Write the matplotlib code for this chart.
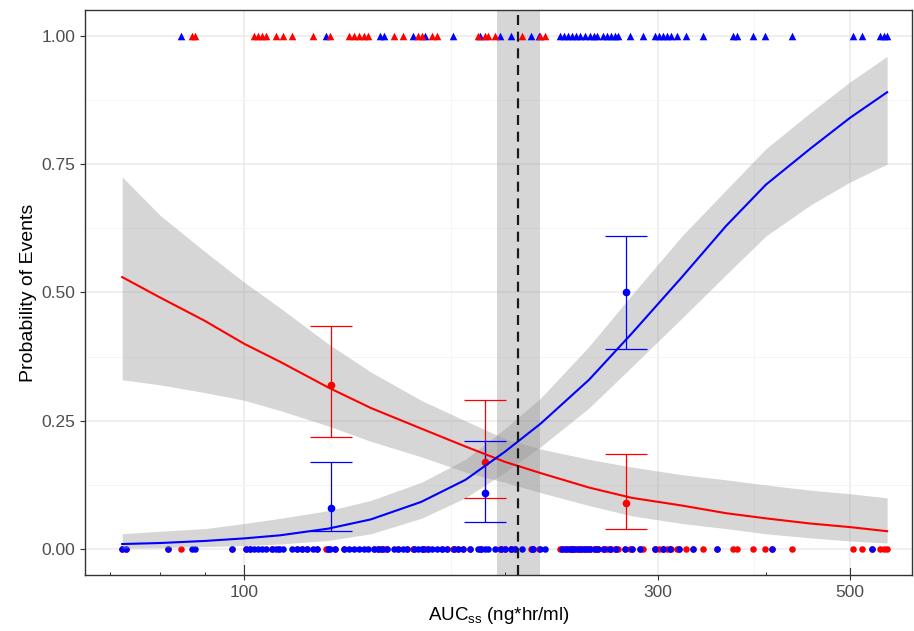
import numpy as np
import matplotlib
matplotlib.use("Agg")
import matplotlib.pyplot as plt
import matplotlib.transforms as mtransforms

plt.rcParams['font.family'] = ['Liberation Sans', 'DejaVu Sans']

# sujeitos com evento azul (azul = 1, vermelho = 0)
auc_blue_event = [84.6, 124.4, 143.3, 144.8, 156.4, 161.5, 174.0, 186.9, 197.1, 203.0,
                  214.1, 218.7, 231.3, 233.8, 236.3, 238.8, 241.3, 243.9, 247.2, 250.5,
                  253.2, 255.2, 259.3, 262.1, 264.9, 267.7, 269.9, 278.6, 288.5, 297.9,
                  301.1, 304.3, 307.5, 310.8, 315.8, 323.5, 338.4, 366.6, 370.5, 386.7,
                  399.2, 429.0, 504.6, 516.8, 542.1, 547.9, 552.3]
# sujeitos com evento vermelho (vermelho = 1, azul = 0)
auc_red_event = [87.1, 87.8, 102.7, 103.8, 104.9, 106.0, 108.9, 110.9, 113.6, 120.2,
                 125.7, 132.2, 134.0, 135.8, 137.6, 139.1, 148.7, 152.3, 158.5, 160.2,
                 164.9, 166.7, 185.9, 189.4, 190.9, 194.5, 209.0, 219.3, 222.3]
# sujeitos sem evento
auc_no_event = [72.3, 73.0, 81.7, 96.9, 100.5, 101.6, 107.7, 109.8, 115.2, 116.7,
                118.3, 121.4, 124.8, 127.4, 130.4, 141.0, 142.5, 144.2, 146.3, 150.3,
                154.3, 156.9, 161.0, 162.8, 169.0, 171.3, 174.5, 176.3, 178.7, 182.0,
                187.4, 197.6, 199.8, 203.4, 205.2, 214.6, 215.3, 232.6, 235.0, 237.4,
                238.8, 240.0, 242.7, 244.6, 246.5, 248.8, 250.5, 254.0, 255.9, 260.0,
                264.2, 268.5, 275.0, 280.2, 286.2, 297.9, 304.3, 310.0, 317.5, 329.6,
                351.3, 406.6, 530.7]

# curvas ajustadas
curve_auc = [72.3, 80, 90, 100, 110, 125, 140, 160, 180, 200, 220, 250, 280, 320, 360, 400, 450, 500, 552]
red_fit = [0.530, 0.49, 0.445, 0.40, 0.365, 0.315, 0.275, 0.235, 0.20, 0.17, 0.148, 0.12, 0.10,
           0.085, 0.07, 0.06, 0.05, 0.043, 0.035]
red_upper = [0.725, 0.65, 0.58, 0.52, 0.47, 0.40, 0.345, 0.29, 0.25, 0.215, 0.195, 0.175, 0.16,
             0.145, 0.135, 0.125, 0.115, 0.108, 0.10]
red_lower = [0.33, 0.32, 0.305, 0.29, 0.27, 0.24, 0.21, 0.18, 0.15, 0.13, 0.11, 0.085, 0.065,
             0.05, 0.04, 0.03, 0.022, 0.016, 0.012]
blue_fit = [0.010, 0.012, 0.016, 0.021, 0.027, 0.040, 0.058, 0.092, 0.135, 0.19, 0.245, 0.33,
            0.42, 0.53, 0.63, 0.71, 0.78, 0.84, 0.89]
blue_upper = [0.03, 0.035, 0.04, 0.05, 0.06, 0.075, 0.095, 0.13, 0.175, 0.235, 0.295, 0.395,
              0.495, 0.61, 0.70, 0.78, 0.85, 0.91, 0.96]
blue_lower = [0.002, 0.003, 0.005, 0.007, 0.01, 0.017, 0.03, 0.06, 0.10, 0.15, 0.20, 0.275,
              0.355, 0.45, 0.535, 0.61, 0.67, 0.715, 0.75]

# pontos por faixa com intervalo
bin_auc = [126, 189.5, 276]
red_bin_p = [0.32, 0.17, 0.09]
red_bin_lo = [0.218, 0.10, 0.04]
red_bin_hi = [0.435, 0.29, 0.185]
blue_bin_p = [0.08, 0.11, 0.50]
blue_bin_lo = [0.035, 0.052, 0.39]
blue_bin_hi = [0.17, 0.21, 0.61]

# limiar
threshold = 206.8
threshold_lo = 195.6
threshold_hi = 219.3

x_major = [100, 300, 500]
x_minor_grid = [173.2, 387.3]
log_short = [70, 80, 90, 200, 400]
y_major = [0.0, 0.25, 0.5, 0.75, 1.0]
y_minor = [0.125, 0.375, 0.625, 0.875]

fig = plt.figure(figsize=(9.14, 6.31), dpi=100)
ax = fig.add_axes([0.093, 0.089, 0.905, 0.895])
ax.set_xscale('log')
ax.set_xlim(65.5, 590)
ax.set_ylim(-0.05, 1.05)

# grade
for x in x_major:
    ax.axvline(x, color='#ebebeb', lw=1.1, zorder=0)
for x in x_minor_grid:
    ax.axvline(x, color='#f4f4f4', lw=0.6, zorder=0)
for y in y_major:
    ax.axhline(y, color='#ebebeb', lw=1.1, zorder=0)
for y in y_minor:
    ax.axhline(y, color='#f4f4f4', lw=0.6, zorder=0)

# faixa do limiar
ax.axvspan(threshold_lo, threshold_hi, color='#999999', alpha=0.4, lw=0, zorder=1)

# pontos observados
bottom_red = auc_blue_event + auc_no_event
bottom_blue = auc_red_event + auc_no_event
ax.scatter(bottom_red, np.zeros(len(bottom_red)), s=22, color='red', marker='o', lw=0, zorder=2)
ax.scatter(bottom_blue, np.zeros(len(bottom_blue)), s=22, color='blue', marker='o', lw=0, zorder=2)
ax.scatter(auc_blue_event, np.ones(len(auc_blue_event)), s=30, color='blue', marker='^', lw=0, zorder=2)
ax.scatter(auc_red_event, np.ones(len(auc_red_event)), s=30, color='red', marker='^', lw=0, zorder=2)

# intervalos de confianca
ax.fill_between(curve_auc, red_lower, red_upper, color='#999999', alpha=0.4, lw=0, zorder=3)
ax.fill_between(curve_auc, blue_lower, blue_upper, color='#999999', alpha=0.4, lw=0, zorder=3)

# pontos por faixa
red_err = [np.subtract(red_bin_p, red_bin_lo), np.subtract(red_bin_hi, red_bin_p)]
blue_err = [np.subtract(blue_bin_p, blue_bin_lo), np.subtract(blue_bin_hi, blue_bin_p)]
ax.errorbar(bin_auc, red_bin_p, yerr=red_err, fmt='o', color='red', ms=4.5,
            capsize=15, elinewidth=0.9, capthick=0.9, zorder=4)
ax.errorbar(bin_auc, blue_bin_p, yerr=blue_err, fmt='o', color='blue', ms=4.5,
            capsize=15, elinewidth=0.9, capthick=0.9, zorder=4)

# curvas
ax.plot(curve_auc, red_fit, color='red', lw=1.5, zorder=5)
ax.plot(curve_auc, blue_fit, color='blue', lw=1.5, zorder=5)

ax.axvline(threshold, color='#1a1a1a', lw=1.6, linestyle=(0, (4.5, 3)), zorder=6)

# eixos
ax.set_xticks(x_major)
ax.set_xticklabels([str(v) for v in x_major])
ax.xaxis.set_minor_locator(matplotlib.ticker.FixedLocator(log_short))
ax.xaxis.set_minor_formatter(matplotlib.ticker.NullFormatter())
ax.tick_params(axis='x', which='minor', direction='in', length=2.2, width=0.7, colors='#333333')
ax.set_yticks(y_major)
ax.set_yticklabels(['0.00', '0.25', '0.50', '0.75', '1.00'])
ax.tick_params(axis='both', which='major', direction='out', length=3.5, width=0.8,
               color='#333333', labelcolor='#4d4d4d', labelsize=12.5)

trans = mtransforms.blended_transform_factory(ax.transData, ax.transAxes)
ax.plot([100, 100], [0, 0.017], color='#333333', lw=0.8, transform=trans, clip_on=False, zorder=6)
ax.plot([500, 500], [0, 0.012], color='#333333', lw=0.8, transform=trans, clip_on=False, zorder=6)

for side in ['top', 'right', 'left', 'bottom']:
    ax.spines[side].set_color('#333333')
    ax.spines[side].set_linewidth(1.0)

ax.set_xlabel('AUC$_{\\mathregular{ss}}$ (ng*hr/ml)', fontsize=13.5, color='black', labelpad=4)
ax.set_ylabel('Probability of Events', fontsize=14, color='black', labelpad=3)

fig.savefig('out.png', dpi=100)
